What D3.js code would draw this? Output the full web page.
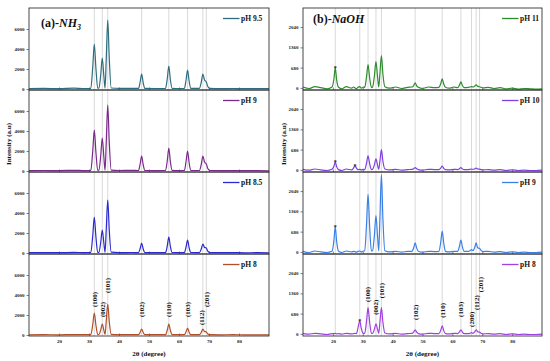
<!DOCTYPE html>
<html>
<head>
<meta charset="utf-8">
<script src="https://cdn.jsdelivr.net/npm/d3@7"></script>
<style>body{margin:0;background:#fff}svg{display:block}</style>
</head>
<body>
<svg width="550" height="361"></svg>
<script>
// 2-theta sample positions, panel (a)
var thetaA = [10, 15, 20, 25, 28, 30.6, 31.25, 31.77, 32.3, 32.9, 33.3, 33.9, 34.42, 34.95, 35.35, 35.75, 36.25, 36.75, 37.4, 40,
  44, 46.5, 47.05, 47.54, 48.05, 48.6, 52, 55.5, 56.1, 56.6, 57.1, 57.7, 60, 61.8, 62.35, 62.86, 63.35, 63.9, 66.8, 67.45,
  67.96, 68.5, 69.1, 69.6, 70.3, 74, 78, 82, 86, 90];
var nh3_95 = [40, 60, 30, 80, 50, 60, 2200, 4500, 2100, 80, 90, 1400, 3100, 1300, 90, 3000, 6900, 3100, 100, 60,
  70, 60, 700, 1500, 650, 60, 50, 60, 1050, 2300, 1000, 70, 50, 60, 900, 1900, 850, 70, 60, 700,
  1500, 900, 700, 250, 60, 40, 50, 30, 40, 30];
var nh3_9 = [30, 50, 40, 70, 40, 50, 2000, 4100, 1900, 70, 80, 1500, 3300, 1400, 80, 2900, 6600, 2900, 90, 50,
  60, 50, 700, 1500, 650, 50, 40, 50, 1050, 2300, 1000, 60, 40, 50, 950, 2000, 900, 60, 50, 700,
  1500, 900, 700, 250, 50, 40, 40, 30, 30, 20];
var nh3_85 = [30, 40, 30, 60, 40, 50, 1750, 3600, 1650, 60, 70, 1050, 2300, 1000, 70, 2350, 5300, 2300, 80, 40,
  50, 40, 450, 1000, 430, 40, 40, 40, 720, 1600, 700, 50, 40, 40, 600, 1300, 570, 50, 40, 420,
  900, 560, 500, 180, 40, 30, 40, 20, 30, 20];
var nh3_8 = [20, 30, 20, 40, 30, 40, 1050, 2200, 1000, 50, 50, 500, 1100, 480, 50, 1400, 3100, 1350, 60, 30,
  40, 30, 270, 600, 260, 30, 30, 30, 500, 1100, 480, 40, 30, 30, 320, 700, 300, 40, 30, 280,
  600, 360, 300, 110, 30, 20, 30, 20, 20, 10];

// 2-theta sample positions, panel (b)
var thetaB = [10, 12, 14, 16, 18, 19.7, 20.35, 20.8, 21.25, 21.9, 23, 24.5, 26.3, 26.9, 27.4, 27.9, 28.4, 29.0, 29.5, 30.2,
  30.65, 31.25, 31.77, 32.3, 32.9, 33.3, 33.9, 34.42, 34.95, 35.35, 35.75, 36.25, 36.75, 37.4, 39, 41, 43, 45, 46.5, 47.05,
  47.54, 48.05, 48.6, 50, 52, 54, 55.5, 56.1, 56.6, 57.1, 57.7, 59, 60.5, 61.8, 62.35, 62.86, 63.35, 63.9, 65.3, 65.9,
  66.4, 66.9, 67.45, 67.96, 68.5, 69.1, 69.6, 70.3, 72, 74, 76, 78, 80, 82, 84, 86, 88, 90];
var naoh_11 = [30, -20, 40, 10, -30, 30, 300, 680, 280, 20, -30, 40, -10, 30, 0, -30, 20, 40, -10, 30,
  20, 360, 780, 340, 10, 30, 400, 880, 380, 30, 480, 1085, 460, 40, -10, 30, -20, 20, 30, 80,
  170, 70, 20, -20, 30, 10, 20, 140, 300, 130, 20, -10, 30, 10, 90, 200, 80, 10, 20, 30,
  40, 30, 60, 100, 50, 40, 20, 0, 20, -20, 10, -30, -10, -40, -20, -30, -40, -30];
var naoh_10 = [20, -10, 30, 0, -20, 20, 120, 270, 110, 10, -20, 30, 0, 60, 135, 60, 10, 20, 0, 20,
  10, 220, 470, 210, 10, 20, 170, 370, 160, 20, 300, 680, 290, 30, 0, 20, -10, 10, 20, 40,
  80, 35, 10, -10, 20, 10, 10, 60, 130, 55, 10, 0, 20, 10, 40, 80, 35, 10, 10, 20,
  25, 20, 30, 60, 30, 25, 10, 0, 10, -10, 10, -20, 0, -20, -10, -20, -20, -10];
var naoh_9 = [20, -20, 30, 0, -20, 20, 380, 850, 360, 20, -20, 30, 0, 20, 10, -10, 20, 30, 0, 30,
  30, 900, 1930, 860, 30, 40, 560, 1220, 530, 40, 1150, 2600, 1100, 40, 0, 20, -10, 20, 20, 140,
  300, 130, 20, -10, 20, 10, 20, 320, 700, 300, 20, 0, 20, 20, 180, 400, 170, 20, 20, 40,
  80, 40, 140, 300, 130, 120, 50, 10, 20, -10, 10, -20, 0, -20, -10, -20, -20, -10];
var naoh_8 = [20, -10, 20, 0, -20, 10, 10, 20, 0, 10, -10, 20, 0, 10, 20, 10, 200, 440, 190, 20,
  20, 410, 880, 400, 20, 20, 160, 340, 150, 20, 400, 880, 390, 30, 0, 20, -10, 10, 20, 60,
  135, 60, 10, -10, 20, 10, 10, 120, 270, 110, 10, 0, 20, 10, 65, 140, 60, 10, 10, 20,
  40, 20, 65, 140, 70, 60, 25, 0, 10, -10, 10, -20, 0, -20, -10, -20, -20, -10];

var namesA = ["pH 9.5", "pH 9", "pH 8.5", "pH 8"];
var namesB = ["pH 11", "pH 10", "pH 9", "pH 8"];
var colorsA = ["#2f6d7e", "#7a2a8a", "#2a2ad0", "#b0502a"];
var colorsB = ["#2e8b2e", "#8040e0", "#3a80e8", "#a040e0"];
var yTicksA = [0, 2000, 4000, 6000];
var yTicksB = [0, 680, 1360, 2040];
var xTicks = [20, 30, 40, 50, 60, 70, 80];
var refLinesA = [31.77, 34.42, 36.25, 47.54, 56.6, 62.86, 67.96, 69.1];
var refLinesB = [20.8, 29.0, 31.77, 34.42, 36.25, 47.54, 56.6, 62.86, 66.4, 67.96, 69.1];
// Miller indices on the lowest trace: label, 2-theta, intensity where label starts
var hklA = ["(100)", "(002)", "(101)", "(102)", "(110)", "(103)", "(112)", "(201)"];
var hklPosA = [31.77, 34.42, 36.25, 47.54, 56.6, 62.86, 67.5, 69.1];
var hklLevelA = [2800, 1800, 4200, 1800, 1800, 1800, 1000, 2800];
var hklB = ["(100)", "(002)", "(101)", "(102)", "(110)", "(103)", "(200)", "(112)", "(201)"];
var hklPosB = [31.77, 34.42, 36.25, 47.54, 56.6, 62.86, 66.4, 67.96, 69.4];
var hklLevelB = [1070, 640, 1200, 470, 540, 570, 235, 800, 1400];
// impurity markers: [trace index, 2-theta, intensity]
var starsB = [[0, 20.8, 680], [1, 20.8, 270], [1, 27.4, 135], [2, 20.8, 850], [3, 29.0, 440]];

var svg = d3.select("svg");
var font = "'Liberation Serif', 'Times New Roman', serif";
var top0 = 8, subH = 82;

var panels = [
  {left: 29, right: 269, theta: thetaA, series: [nh3_95, nh3_9, nh3_85, nh3_8], names: namesA, colors: colorsA,
   yDomain: [-100, 8100], yTicks: yTicksA, refLines: refLinesA, hkl: hklA, hklPos: hklPosA, hklLevel: hklLevelA,
   stars: [], title: ["(a)-", "NH", "3"], titleX: 41, titleY: 27, legendX: 241, labelX: 9},
  {left: 303, right: 542, theta: thetaB, series: [naoh_11, naoh_10, naoh_9, naoh_8], names: namesB, colors: colorsB,
   yDomain: [-70, 2680], yTicks: yTicksB, refLines: refLinesB, hkl: hklB, hklPos: hklPosB, hklLevel: hklLevelB,
   stars: starsB, title: ["(b)-", "NaOH", ""], titleX: 313, titleY: 23, legendX: 520, labelX: 284}
];

panels.forEach(function(p) {
  var x = d3.scaleLinear().domain([10, 90]).range([p.left, p.right]);
  var bottom = top0 + 4 * subH;

  // grey reference lines through all traces
  svg.append("g").selectAll("line").data(p.refLines).join("line")
    .attr("x1", d => x(d)).attr("x2", d => x(d)).attr("y1", top0).attr("y2", bottom)
    .attr("stroke", "#c9c9c9").attr("stroke-width", 0.7);

  p.series.forEach(function(vals, i) {
    var t = top0 + i * subH;
    var y = d3.scaleLinear().domain(p.yDomain).range([t + subH, t]);
    var g = svg.append("g");

    g.append("g").attr("transform", "translate(0," + (t + subH) + ")")
      .call(d3.axisBottom(x).tickValues(xTicks).tickSize(-2.5).tickFormat(i == 3 ? d3.format("d") : ""))
      .call(a => a.select(".domain").remove());
    g.append("g").attr("transform", "translate(" + p.left + ",0)")
      .call(d3.axisLeft(y).tickValues(p.yTicks).tickSize(2.5).tickPadding(2).tickFormat(d3.format("d")))
      .call(a => a.select(".domain").remove());
    g.selectAll(".tick text").attr("font-family", font).attr("font-weight", "bold").attr("font-size", 5).attr("fill", "#222");
    g.selectAll(".tick line").attr("stroke", "#333").attr("stroke-width", 0.6);

    var line = d3.line().x((d, k) => x(p.theta[k])).y(d => y(d)).curve(d3.curveMonotoneX);
    g.append("path").datum(vals).attr("d", line).attr("fill", "none")
      .attr("stroke", p.colors[i]).attr("stroke-width", 1.2);

    g.append("rect").attr("x", p.left).attr("y", t).attr("width", p.right - p.left).attr("height", subH)
      .attr("fill", "none").attr("stroke", "#333").attr("stroke-width", 0.9);

    // legend
    g.append("line").attr("x1", p.legendX - 18).attr("x2", p.legendX - 1.5).attr("y1", t + 10.5).attr("y2", t + 10.5)
      .attr("stroke", p.colors[i]).attr("stroke-width", 1.3);
    g.append("text").attr("x", p.legendX).attr("y", t + 13).text(p.names[i])
      .attr("font-family", font).attr("font-weight", "bold").attr("font-size", 7.5).attr("fill", "#111");

    p.stars.filter(s => s[0] == i).forEach(function(s) {
      g.append("text").attr("x", x(s[1])).attr("y", y(s[2]) + 2.5).attr("text-anchor", "middle")
        .text("*").attr("font-family", font).attr("font-weight", "bold").attr("font-size", 6).attr("fill", "#222");
    });

    if (i == 3) {
      p.hkl.forEach(function(h, k) {
        var hx = x(p.hklPos[k]), hy = y(p.hklLevel[k]);
        g.append("text").attr("transform", "translate(" + hx + "," + hy + ") rotate(-90)")
          .attr("dy", "0.35em").text(h)
          .attr("font-family", font).attr("font-weight", "bold").attr("font-size", 7).attr("fill", "#111");
      });
    }
  });

  // panel title
  var tt = svg.append("text").attr("x", p.titleX).attr("y", p.titleY)
    .attr("font-family", font).attr("font-weight", "bold").attr("font-size", 12).attr("fill", "#111");
  tt.append("tspan").text(p.title[0]);
  tt.append("tspan").attr("font-style", "italic").text(p.title[1]);
  if (p.title[2]) tt.append("tspan").attr("font-style", "italic").attr("font-size", 8).attr("dy", 2.5).text(p.title[2]);

  svg.append("text").attr("x", (p.left + p.right) / 2).attr("y", 356).attr("text-anchor", "middle")
    .text("2θ (degree)").attr("font-family", font).attr("font-weight", "bold").attr("font-size", 7).attr("fill", "#111");
  svg.append("text").attr("transform", "translate(" + p.labelX + ",144) rotate(-90)").attr("text-anchor", "middle")
    .attr("dy", "0.35em").text("Intensity (a.u)")
    .attr("font-family", font).attr("font-weight", "bold").attr("font-size", 7).attr("fill", "#111");
});
</script>
</body>
</html>
